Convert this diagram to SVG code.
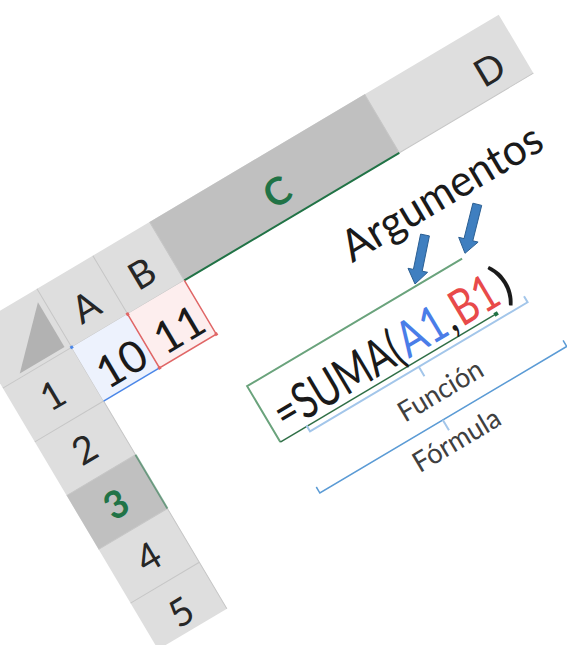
<svg xmlns="http://www.w3.org/2000/svg" width="567" height="645" viewBox="0 0 567 645">
<style>
.hdr{fill:#dedede}
.sel{fill:#c0c0c0}
.sep{stroke:#c6c6c6;stroke-width:1;fill:none}
.hl{font-family:Lato,"Liberation Sans",sans-serif;font-size:38px;fill:#262626;text-anchor:middle}
.hls{font-family:Lato,"Liberation Sans",sans-serif;font-size:38px;font-weight:bold;fill:#217346;text-anchor:middle}
.cell{font-family:Lato,"Liberation Sans",sans-serif;font-size:44px;fill:#1a1a1a}
.f{font-family:Lato,"Liberation Sans",sans-serif;font-size:50px}
.blk{fill:#1a1a1a}
.blu{fill:#4a7de8}
.red{fill:#e84a4a}
.lbl{font-family:Lato,"Liberation Sans",sans-serif;font-size:28px;fill:#404040}
.arrow{fill:#3f7fc0;stroke:#2b5f93;stroke-width:1}
</style>
<rect width="567" height="645" fill="#ffffff"/>
<g transform="translate(71.7,347.3) rotate(-30.7)">
  <g id="headers">
    <rect class="hdr" x="-80" y="-68" width="617" height="68"/>
    <rect class="sel" x="131" y="-68" width="250" height="68"/>
    <rect class="hdr" x="-80" y="0" width="80" height="304"/>
    <rect class="sel" x="-80" y="125" width="80" height="62.5"/>
    <polygon points="-6,-4 -6,-56 -58,-4" fill="#b2b2b2"/>
    <path class="sep" d="M0,-68V0M65,-68V0M131,-68V0M381,-68V0M-80,0H537M0,0V304M-80,62.5H0M-80,125H0M-80,187.5H0M-80,250H0"/>
    <line x1="131" y1="0" x2="381" y2="0" stroke="#217346" stroke-width="2"/>
    <line x1="0" y1="125" x2="0" y2="187.5" stroke="#217346" stroke-width="2" opacity="0.55"/>
    <text class="hl" x="33" y="-14">A</text>
    <text class="hl" x="98" y="-14">B</text>
    <text class="hls" x="256" y="-15">C</text>
    <text class="hl" x="501" y="-12">D</text>
    <text class="hl" x="-41" y="45">1</text>
    <text class="hl" x="-41" y="108">2</text>
    <text class="hls" x="-42" y="171">3</text>
    <text class="hl" x="-41" y="233">4</text>
    <text class="hl" x="-41" y="297">5</text>
  </g>
  <g id="cellA1">
    <rect x="0" y="0" width="65" height="62.5" fill="#edf2fd"/>
    <line x1="0" y1="62.5" x2="65" y2="62.5" stroke="#4a86e8" stroke-width="1.5"/>
    <rect x="-1.5" y="-1.5" width="3" height="3" fill="#4a86e8"/>
    <text class="cell" x="60" y="55" text-anchor="end">10</text>
  </g>
  <g id="cellB1">
    <rect x="65" y="0" width="66" height="62.5" fill="#fdeeee"/>
    <path d="M65,0V62.5H131V0" fill="none" stroke="#e06666" stroke-width="1.5"/>
    <rect x="63.5" y="-1.5" width="3" height="3" fill="#e06666"/>
    <rect x="63.5" y="61" width="3" height="3" fill="#e06666"/>
    <rect x="129.5" y="61" width="3" height="3" fill="#e06666"/>
    <text class="cell" x="127" y="55" text-anchor="end">11</text>
  </g>
  <g id="cellC3">
    <path d="M381,123H131V188" fill="none" stroke="#6aa37c" stroke-width="2"/>
    <line x1="131" y1="188" x2="382" y2="188" stroke="#2f6f46" stroke-width="1.5"/>
    <rect x="380" y="186" width="4" height="4" fill="#217346"/>
    <text class="f blk" x="141" y="182" textLength="141" lengthAdjust="spacingAndGlyphs">=SUMA(</text>
    <text class="f blu" x="284" y="182" textLength="50" lengthAdjust="spacingAndGlyphs">A1</text>
    <text class="f blk" x="335" y="182" textLength="9" lengthAdjust="spacingAndGlyphs">,</text>
    <text class="f red" x="346" y="182" textLength="48" lengthAdjust="spacingAndGlyphs">B1</text>
    <text class="f blk" x="396" y="182" textLength="14" lengthAdjust="spacingAndGlyphs">)</text>
  </g>
  <g id="labelArgumentos">
    <text class="cell" x="284" y="71" font-size="45" textLength="226" lengthAdjust="spacingAndGlyphs">Argumentos</text>
  </g>
  <g id="labelFuncion">
    <text class="lbl" x="248" y="235" textLength="94" lengthAdjust="spacingAndGlyphs">Función</text>
  </g>
  <g id="labelFormula">
    <text class="lbl" x="235" y="286" textLength="97" lengthAdjust="spacingAndGlyphs">Fórmula</text>
  </g>
  <g id="brackets">
    <path d="M162,187V194H415V187M288.5,194V205" fill="none" stroke="#a3c6ea" stroke-width="2"/>
    <path d="M139,245V252H426V245" fill="none" stroke="#5b9bd5" stroke-width="1.5"/>
    <path d="M282,252V264" fill="none" stroke="#a3c6ea" stroke-width="2"/>
  </g>
</g>
<g id="connectors">
  <polygon class="arrow" points="429.4,235.9 422.2,271.2 427.6,272.3 415,284 408,268.3 413.4,269.4 420.6,234.1"/>
  <polygon class="arrow" points="481.7,205.4 472.8,240.8 478.1,242.1 465,253.3 458.7,237.3 464,238.6 472.9,203.2"/>
</g>
</svg>
